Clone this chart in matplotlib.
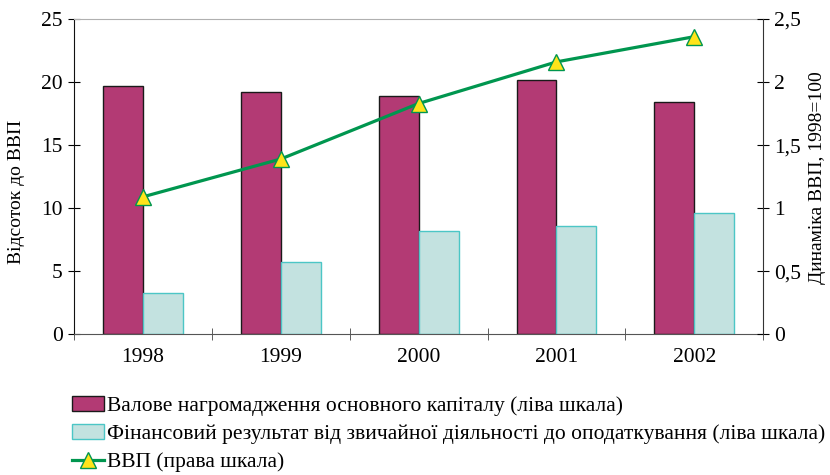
import matplotlib.pyplot as plt
import numpy as np

years = ['1998', '1999', '2000', '2001', '2002']
capital = [19.65, 19.25, 18.9, 20.2, 18.45]      # ліва шкала
fin_result = [3.25, 5.7, 8.2, 8.55, 9.65]        # ліва шкала
gdp = [1.09, 1.39, 1.83, 2.16, 2.36]             # права шкала

left_ticks = [0, 5, 10, 15, 20, 25]
right_ticks = [0, 0.5, 1, 1.5, 2, 2.5]
right_labels = ['0', '0,5', '1', '1,5', '2', '2,5']

plt.rcParams['font.family'] = ['Liberation Serif', 'DejaVu Serif']
plt.rcParams['font.size'] = 15.5

fig = plt.figure(figsize=(8.3, 4.75), dpi=100)
ax = fig.add_axes([0.0892, 0.2962, 0.9196 - 0.0892, 0.96 - 0.2962])

x = np.arange(len(years))
w = 0.29
ax.bar(x - w / 2, capital, w, color='#B33A74', edgecolor='#1a1a1a', linewidth=1,
       label='Валове нагромадження основного капіталу (ліва шкала)', zorder=2)
ax.bar(x + w / 2, fin_result, w, color='#C3E2E0', edgecolor='#4CC6C6', linewidth=1,
       label='Фінансовий результат від звичайної діяльності до оподаткування (ліва шкала)', zorder=2)

ax.set_xlim(-0.5, len(years) - 0.5)
ax.set_ylim(0, 25)
ax.set_yticks(left_ticks)
ax.set_xticks(x)
ax.set_xticklabels(years)
ax.set_xticks(np.arange(len(years) + 1) - 0.5, minor=True)
ax.tick_params(axis='x', which='major', length=0, pad=10)
ax.tick_params(axis='x', which='minor', direction='inout', length=8, color='#444444')
ax.tick_params(axis='y', direction='inout', length=8, pad=4)
ax.set_ylabel('Відсоток до ВВП', fontsize=14)
ax.yaxis.set_label_coords(-0.071, 0.451)

ax.spines['top'].set_color('#b0b0b0')
ax.spines['right'].set_visible(False)
ax.spines['bottom'].set_color('#555555')
ax.spines['left'].set_color('#111111')

ax2 = ax.twinx()
ax2.plot(x, gdp, color='#00964F', linewidth=2.3, marker='^', markersize=11,
         markerfacecolor='#FFE41A', markeredgecolor='#00964F', markeredgewidth=1,
         label='ВВП (права шкала)', zorder=3)
ax2.set_ylim(0, 2.5)
ax2.set_yticks(right_ticks)
ax2.set_yticklabels(right_labels)
ax2.tick_params(axis='y', direction='inout', length=8, pad=4)
ax2.set_ylabel('Динаміка ВВП, 1998=100', fontsize=14)
ax2.yaxis.set_label_coords(1.066, 0.496)
for s in ['top', 'left', 'bottom']:
    ax2.spines[s].set_visible(False)
ax2.spines['right'].set_color('#333333')

h1, l1 = ax.get_legend_handles_labels()
h2, l2 = ax2.get_legend_handles_labels()
fig.legend(h1 + h2, l1 + l2, loc='upper left', bbox_to_anchor=(0.076, 0.185),
           frameon=False, handlelength=1.5, handleheight=0.7, handletextpad=0.15,
           labelspacing=0.38, borderaxespad=0)

fig.savefig('out.png', dpi=100)
